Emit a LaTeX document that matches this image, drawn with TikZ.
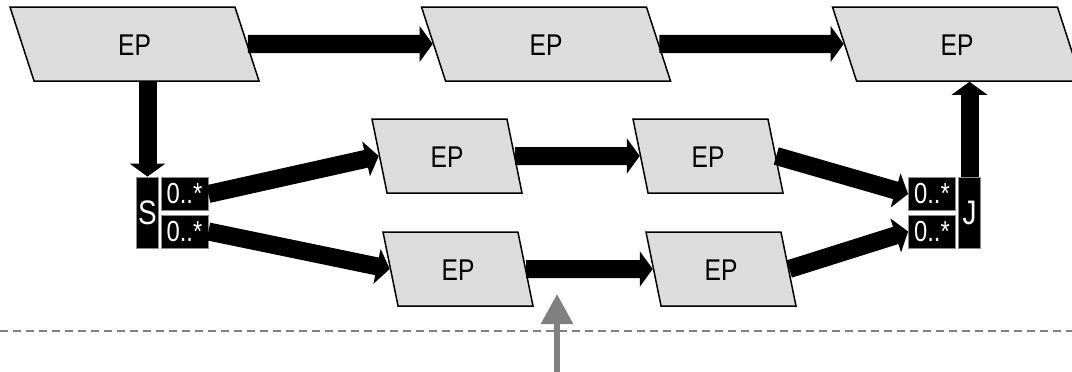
\documentclass[tikz,border=0pt]{standalone}
\usepackage{fontspec}
\setmainfont{Liberation Sans}[FakeStretch=0.82]
\usetikzlibrary{shapes.geometric,arrows.meta}
\definecolor{epf}{RGB}{220,220,220}
\colorlet{gax}{black!50}
\colorlet{bdx}{black!45}
\tikzset{
    ep/.style={trapezium,trapezium stretches body,draw,line width=1.5pt,fill=epf,
        inner xsep=0pt,inner ysep=26pt,text height=22pt,text depth=0pt,
        font=\fontsize{30}{34}\selectfont},
    wide/.style={ep,trapezium left angle=108,trapezium right angle=72,minimum width=249pt},
    narrow/.style={ep,trapezium left angle=101.5,trapezium right angle=78.5,minimum width=150pt},
    bar/.style={fill=black,draw=bdx,line width=0.8pt,text=white,inner sep=0pt,
        minimum width=22pt,minimum height=71pt,font=\fontsize{34}{38}\selectfont},
    mult/.style={fill=black,draw=bdx,line width=0.8pt,text=white,inner sep=0pt,
        minimum width=47pt,minimum height=33pt,font=\fontsize{29}{32}\selectfont},
    flow/.style={line width=18pt,-{Triangle[length=13pt,width=35pt]}},
    probe/.style={gax,line width=6pt,-{Triangle[length=30pt,width=31pt]}}
}
\begin{document}
\begin{tikzpicture}[x=1pt,y=-1pt]
    \useasboundingbox (0,0) rectangle (1072,372);
    % main line
    \node [wide] (ep1) at (134.5,44) {EP};
    \node [wide] (ep2) at (546,44) {EP};
    \node [wide] (ep3) at (957,44) {EP};
    % split and join
    \node [bar] (split) at (147.5,212.5) {S};
    \node [mult] (s1) at (184.5,194) {0..*};
    \node [mult] (s2) at (184.5,231.5) {0..*};
    \node [bar] (join) at (969.5,212.5) {J};
    \node [mult] (j1) at (932,194) {0..*};
    \node [mult] (j2) at (932,231.5) {0..*};
    % parallel branches
    \node [narrow] (epa1) at (447,156) {EP};
    \node [narrow] (epa2) at (708,156) {EP};
    \node [narrow] (epb1) at (458,269) {EP};
    \node [narrow] (epb2) at (721,269) {EP};
    \draw [flow] (ep1) -- (ep2);
    \draw [flow] (ep2) -- (ep3);
    \draw [flow] (split.north |- ep1.south) -- (split.north);
    \draw [flow] (join.north) -- (join.north |- ep3.south);
    \draw [flow] (s1.east) -- (epa1.west);
    \draw [flow] (s2.east) -- (epb1.west);
    \draw [flow] (epa1) -- (epa2);
    \draw [flow] (epb1) -- (epb2);
    \draw [flow] (epa2.east) -- (j1.west);
    \draw [flow] (epb2.east) -- (j2.west);
    % boundary and probe
    \coordinate (bl) at (0,331);
    \coordinate (br) at (1072,331);
    \draw [gax,line width=1.5pt,dash pattern=on 8pt off 5pt] (bl) -- (br);
    \coordinate (pin) at (557,372);
    \coordinate (pout) at (557,294);
    \draw [probe] (pin) -- (pout);
\end{tikzpicture}
\end{document}
